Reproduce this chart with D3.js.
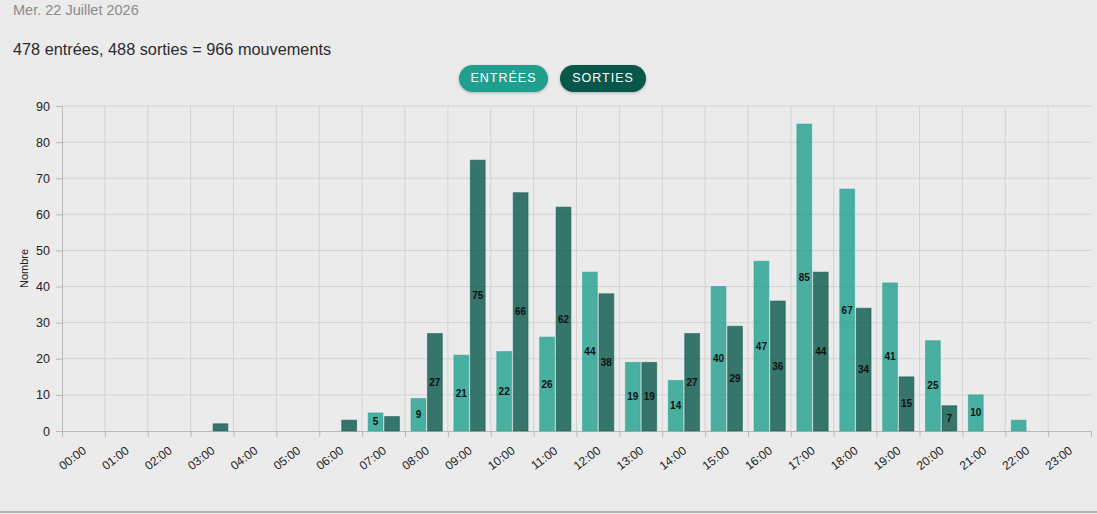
<!DOCTYPE html>
<html>
<head>
<meta charset="utf-8">
<script src="https://cdn.jsdelivr.net/npm/d3@7"></script>
<style>
  html, body { margin: 0; padding: 0; background: #ebebeb; }
  body { width: 1097px; height: 514px; overflow: hidden; position: relative;
    font-family: "Liberation Sans", Arial, sans-serif; }
  #date { position: absolute; left: 13px; top: 2px; font-size: 14.5px; color: #8a8a8a; }
  #total { position: absolute; left: 13px; top: 40px; font-size: 16.3px; color: #2b2b2b; }
  .btn { position: absolute; top: 65px; height: 27px; line-height: 27px; border-radius: 14px;
    color: #fff; font-size: 12.5px; letter-spacing: 1px; text-align: center;
    box-shadow: 0 1px 3px rgba(0,0,0,0.25); }
  #btn-e { left: 459px; width: 89px; background: #1fa08f; }
  #btn-s { left: 560px; width: 86px; background: #07574b; }
  #bottom { position: absolute; left: 0; top: 511px; width: 1097px; height: 2px; background: #b4b4b4; }
  svg { position: absolute; left: 0; top: 0; }
</style>
</head>
<body>
<div id="date">Mer. 22 Juillet 2026</div>
<div id="total">478 entrées, 488 sorties = 966 mouvements</div>
<div class="btn" id="btn-e">ENTRÉES</div>
<div class="btn" id="btn-s">SORTIES</div>
<div id="bottom"></div>
<div id="hook-chart"></div>
<script>
'use strict';

var hours = d3.range(0, 24);
var hourLabels = hours.map(function(h) { return (h < 10 ? '0' : '') + h + ':00'; });
var entrees = [0, 0, 0, 0, 0, 0, 0, 5, 9, 21, 22, 26, 44, 19, 14, 40, 47, 85, 67, 41, 25, 10, 3, 0];
var sorties = [0, 0, 0, 2, 0, 0, 3, 4, 27, 75, 66, 62, 38, 19, 27, 29, 36, 44, 34, 15, 7, 0, 0, 0];
var yTicks = d3.range(0, 100, 10);

var series = [
  { key: 'entrees', values: entrees, color: '#1fa08f' },
  { key: 'sorties', values: sorties, color: '#07574b' }
];

var options = {
  width: 1097,
  height: 514,
  left: 62,
  right: 1091,
  top: 106,
  bottom: 431
};

function update(options) {
  var svg = d3.select('#hook-chart')
    .append('svg')
    .attr('width', options.width)
    .attr('height', options.height);

  var x = d3.scaleLinear().domain([0, 24]).range([options.left, options.right]);
  var y = d3.scaleLinear().domain([0, 90]).range([options.bottom, options.top]);
  var slot = x(1) - x(0);
  var x1 = d3.scaleBand().domain(series.map(function(s) { return s.key; }))
    .range([slot * 0.14, slot * 0.87]).paddingInner(0.1);

  // grid
  svg.append('g')
    .selectAll('line.h')
    .data(yTicks.slice(1))
    .enter().append('line')
    .attr('x1', options.left).attr('x2', options.right)
    .attr('y1', function(d) { return y(d); }).attr('y2', function(d) { return y(d); })
    .style('stroke', '#d2d2d2').style('stroke-width', 1);

  svg.append('g')
    .selectAll('line.v')
    .data(hours.slice(1))
    .enter().append('line')
    .attr('x1', function(d) { return x(d); }).attr('x2', function(d) { return x(d); })
    .attr('y1', options.top).attr('y2', options.bottom)
    .style('stroke', '#d2d2d2').style('stroke-width', 1);

  // axes
  var yAxis = svg.append('g')
    .attr('transform', 'translate(' + options.left + ',0)')
    .call(d3.axisLeft(y).tickValues(yTicks).tickSize(6).tickPadding(6));
  yAxis.selectAll('text').style('font-size', '12.5px').style('fill', '#222')
    .style('font-family', '"Liberation Sans", Arial, sans-serif');

  var xAxis = svg.append('g')
    .attr('transform', 'translate(0,' + options.bottom + ')')
    .call(d3.axisBottom(x).tickValues(hours).tickSize(6)
      .tickFormat(function(d) { return hourLabels[d]; }));
  xAxis.selectAll('text')
    .style('font-size', '12px').style('fill', '#222')
    .style('font-family', '"Liberation Sans", Arial, sans-serif')
    .style('text-anchor', 'middle')
    .attr('x', 0).attr('y', 0).attr('dy', '0.35em')
    .attr('transform', 'translate(10,27) rotate(-37)');

  svg.selectAll('.domain, .tick line').style('stroke', '#b8b8b8');

  svg.append('text')
    .attr('transform', 'translate(28,' + ((options.top + options.bottom) / 2) + ') rotate(-90)')
    .style('text-anchor', 'middle')
    .style('font-size', '11px')
    .style('fill', '#222')
    .text('Nombre');

  // bars
  series.forEach(function(s) {
    var g = svg.append('g');
    var items = hours.filter(function(h) { return s.values[h] > 0; });

    g.selectAll('rect')
      .data(items)
      .enter().append('rect')
      .attr('x', function(h) { return x(h) + x1(s.key); })
      .attr('y', function(h) { return y(s.values[h]); })
      .attr('width', x1.bandwidth())
      .attr('height', function(h) { return y(0) - y(s.values[h]); })
      .style('fill', s.color)
      .style('fill-opacity', 0.8)
      .style('stroke', s.color)
      .style('stroke-opacity', 0.5)
      .style('stroke-width', 1);

    g.selectAll('text')
      .data(items.filter(function(h) { return s.values[h] >= 5; }))
      .enter().append('text')
      .attr('x', function(h) { return x(h) + x1(s.key) + x1.bandwidth() / 2; })
      .attr('y', function(h) { return (y(s.values[h]) + y(0)) / 2; })
      .attr('dy', '0.35em')
      .style('text-anchor', 'middle')
      .style('font-size', '10px')
      .style('font-weight', 'bold')
      .style('fill', '#111')
      .text(function(h) { return s.values[h]; });
  });
}

update(options);
</script>
</body>
</html>
